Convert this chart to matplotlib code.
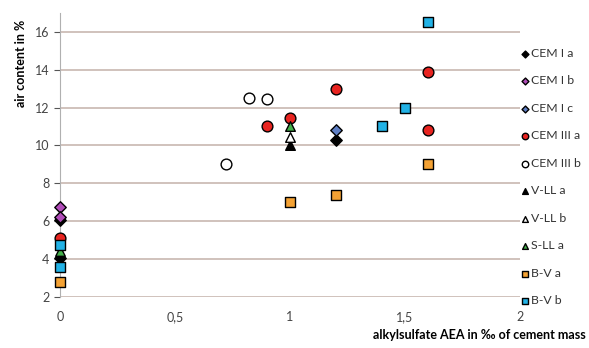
import matplotlib.pyplot as plt

# Luftgehalt je Zement / Zusatzstoff-Kombination
cem1a_x = [0, 0, 1.2]
cem1a_y = [6.05, 4.05, 10.3]
cem1b_x = [0, 0]
cem1b_y = [6.75, 6.2]
cem1c_x = [1.2]
cem1c_y = [10.8]
cem3a_x = [0, 0.9, 1.0, 1.2, 1.6, 1.6]
cem3a_y = [5.1, 11.0, 11.45, 13.0, 13.9, 10.8]
cem3b_x = [0.72, 0.82, 0.9]
cem3b_y = [9.0, 12.5, 12.45]
vlla_x = [1.0]
vlla_y = [10.0]
vllb_x = [1.0]
vllb_y = [10.45]
slla_x = [0, 1.0]
slla_y = [4.4, 11.0]
bva_x = [0, 1.0, 1.2, 1.6]
bva_y = [2.8, 7.0, 7.4, 9.0]
bvb_x = [0, 0, 1.4, 1.5, 1.6]
bvb_y = [4.75, 3.6, 11.0, 12.0, 16.5]

reihen = [
    ("CEM I a", cem1a_x, cem1a_y, "D", "black", 34),
    ("CEM I b", cem1b_x, cem1b_y, "D", "#b04cb8", 34),
    ("CEM I c", cem1c_x, cem1c_y, "D", "#5f7fc4", 34),
    ("CEM III a", cem3a_x, cem3a_y, "o", "#e82420", 60),
    ("CEM III b", cem3b_x, cem3b_y, "o", "white", 60),
    ("V-LL a", vlla_x, vlla_y, "^", "black", 48),
    ("V-LL b", vllb_x, vllb_y, "^", "white", 48),
    ("S-LL a", slla_x, slla_y, "^", "#44b04a", 48),
    ("B-V a", bva_x, bva_y, "s", "#f4a234", 48),
    ("B-V b", bvb_x, bvb_y, "s", "#22b2e6", 48),
]

plt.rcParams['font.family'] = ['Lato', 'DejaVu Sans']

fig = plt.figure(figsize=(5.89, 3.48), dpi=100)
ax = fig.add_axes([0.102, 0.147, 0.781, 0.816])

for name, xs, ys, m, c, s in reihen:
    ax.scatter(xs, ys, marker=m, s=s, facecolor=c, edgecolor="black",
               linewidth=1.0, label=name, zorder=3, clip_on=False)

ax.set_xlim(0, 2)
ax.set_ylim(2, 17)
ax.set_xticks([0, 0.5, 1, 1.5, 2])
ax.set_xticklabels(["0", "0,5", "1", "1,5", "2"])
ax.set_yticks([2, 4, 6, 8, 10, 12, 14, 16])
ax.yaxis.grid(True, color="#c8b8b0", linewidth=1.2)
ax.set_axisbelow(True)
for sp in ["top", "right", "bottom"]:
    ax.spines[sp].set_visible(False)
ax.spines["left"].set_color("#b0b0b0")
ax.tick_params(axis="both", labelsize=9, colors="#555555", length=4, width=0.8)
ax.tick_params(axis="x", length=0, pad=10)
ax.tick_params(axis="both", labelcolor="#444444")

fig.text(0.035, 1 - 20 / 348, "air content in %", rotation=90, va="top",
         ha="center", fontsize=9, fontweight="bold")
fig.text(0.995, 1 - 335 / 348, "alkylsulfate AEA in \u2030 of cement mass",
         ha="right", va="center", fontsize=9, fontweight="bold")

leg = ax.legend(loc="upper left", bbox_to_anchor=(0.875, 1 - 43 / 348),
                bbox_transform=fig.transFigure, frameon=False, fontsize=8.8,
                labelspacing=1.35, handletextpad=0.1, handlelength=0.8,
                markerscale=0.6, borderaxespad=0)
for t in leg.get_texts():
    t.set_color("#333333")

fig.savefig("out.png", dpi=100)
